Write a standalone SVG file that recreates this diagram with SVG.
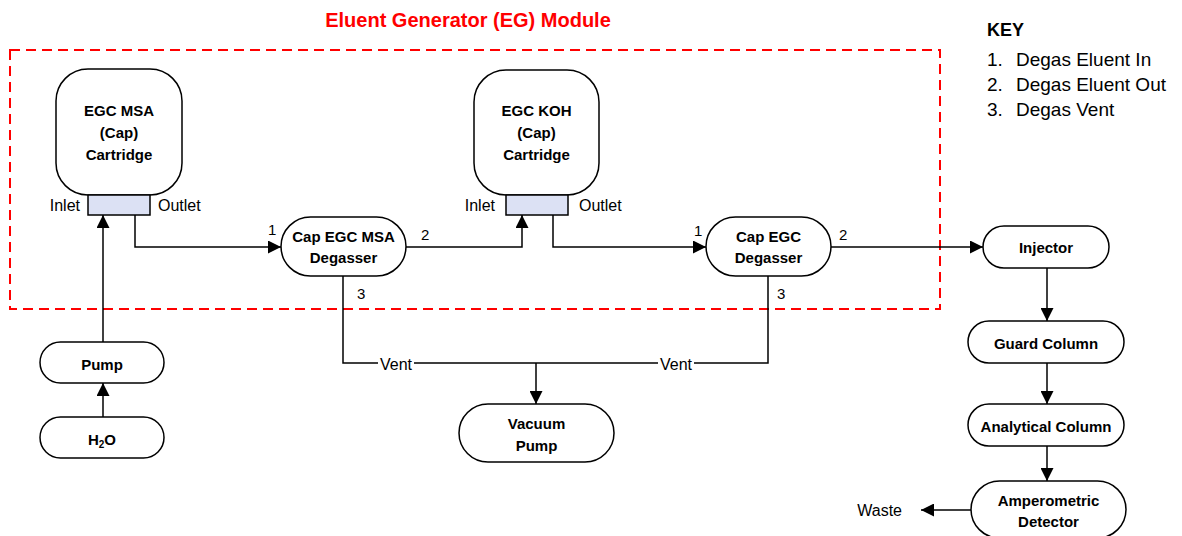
<svg xmlns="http://www.w3.org/2000/svg" width="1182" height="536" viewBox="0 0 1182 536">
<style>
.n{fill:#fff;stroke:#000;stroke-width:1.5}
.p{fill:#dce1f4;stroke:#000;stroke-width:1.5}
.t{font-family:"Liberation Sans",Arial,sans-serif;font-weight:bold;font-size:15px;text-anchor:middle;fill:#000}
.r{font-family:"Liberation Sans",Arial,sans-serif;font-size:16px;fill:#000}
.k{font-family:"Liberation Sans",Arial,sans-serif;font-size:19px;fill:#000}
.s{font-family:"Liberation Sans",Arial,sans-serif;font-size:15px;fill:#000}
.c{fill:none;stroke:#000;stroke-width:1.5}
</style>
<defs>
<marker id="a" markerUnits="userSpaceOnUse" markerWidth="13" markerHeight="13" refX="13" refY="6.5" orient="auto">
<path d="M0,0 L13,6.5 L0,13 z" fill="#000"/>
</marker>
</defs>
<rect x="10" y="50" width="930" height="259" fill="none" stroke="#ff0000" stroke-width="2" stroke-dasharray="10,6"/>
<text x="468" y="27" font-family="Liberation Sans,Arial,sans-serif" font-weight="bold" font-size="20" fill="#ff0000" text-anchor="middle">Eluent Generator (EG) Module</text>

<g id="key">
<text x="987" y="36" font-family="Liberation Sans,Arial,sans-serif" font-weight="bold" font-size="18" fill="#000">KEY</text>
<text x="987" y="66" class="k">1.</text><text x="1016" y="66" class="k">Degas Eluent In</text>
<text x="987" y="91" class="k">2.</text><text x="1016" y="91" class="k">Degas Eluent Out</text>
<text x="987" y="116" class="k">3.</text><text x="1016" y="116" class="k">Degas Vent</text>
</g>

<g id="connectors">
<path class="c" d="M103,342 V215" marker-end="url(#a)"/>
<path class="c" d="M103,417 V383" marker-end="url(#a)"/>
<path class="c" d="M135,215 V247 H281" marker-end="url(#a)"/>
<path class="c" d="M406,247 H522 V215" marker-end="url(#a)"/>
<path class="c" d="M553,215 V247 H706" marker-end="url(#a)"/>
<path class="c" d="M831,247 H983" marker-end="url(#a)"/>
<path class="c" d="M1047,268 V321" marker-end="url(#a)"/>
<path class="c" d="M1047,363 V404" marker-end="url(#a)"/>
<path class="c" d="M1047,446 V481" marker-end="url(#a)"/>
<path class="c" d="M971,510 H921" marker-end="url(#a)"/>
<path class="c" d="M343,276 V363 H768 V276"/>
<path class="c" d="M536,363 V404" marker-end="url(#a)"/>
<rect x="378" y="355" width="36" height="16" fill="#fff"/>
<text x="396" y="370" class="r" text-anchor="middle">Vent</text>
<rect x="658" y="355" width="36" height="16" fill="#fff"/>
<text x="676" y="370" class="r" text-anchor="middle">Vent</text>
<text x="268" y="235" class="s">1</text>
<text x="421" y="240" class="s">2</text>
<text x="357" y="299" class="s">3</text>
<text x="694" y="236" class="s">1</text>
<text x="839" y="240" class="s">2</text>
<text x="777" y="299" class="s">3</text>
<text x="902" y="516" class="r" text-anchor="end">Waste</text>
</g>

<g id="egc-msa">
<rect class="n" x="56" y="69" width="126" height="126" rx="32"/>
<text class="t" x="119" y="116">EGC MSA</text>
<text class="t" x="119" y="138">(Cap)</text>
<text class="t" x="119" y="160">Cartridge</text>
<rect class="p" x="88" y="195" width="62" height="20"/>
<text x="80" y="211" class="r" text-anchor="end">Inlet</text>
<text x="158" y="211" class="r">Outlet</text>
</g>

<g id="egc-koh">
<rect class="n" x="474" y="70" width="125" height="125" rx="32"/>
<text class="t" x="536.5" y="116">EGC KOH</text>
<text class="t" x="536.5" y="138">(Cap)</text>
<text class="t" x="536.5" y="160">Cartridge</text>
<rect class="p" x="506" y="195" width="62" height="20"/>
<text x="495" y="211" class="r" text-anchor="end">Inlet</text>
<text x="579" y="211" class="r">Outlet</text>
</g>

<g id="msa-degasser">
<rect class="n" x="281" y="217" width="125" height="59" rx="29.5"/>
<text class="t" x="343.5" y="242">Cap EGC MSA</text>
<text class="t" x="343.5" y="263">Degasser</text>
</g>

<g id="egc-degasser">
<rect class="n" x="706" y="217" width="125" height="59" rx="29.5"/>
<text class="t" x="768.5" y="242">Cap EGC</text>
<text class="t" x="768.5" y="263">Degasser</text>
</g>

<g id="injector">
<rect class="n" x="983" y="226" width="126" height="42" rx="21"/>
<text class="t" x="1046" y="253">Injector</text>
</g>

<g id="guard">
<rect class="n" x="968" y="321" width="156" height="42" rx="21"/>
<text class="t" x="1046" y="349">Guard Column</text>
</g>

<g id="analytical">
<rect class="n" x="968" y="404" width="156" height="42" rx="21"/>
<text class="t" x="1046" y="432">Analytical Column</text>
</g>

<g id="detector">
<rect class="n" x="971" y="481" width="155" height="57" rx="28.5"/>
<text class="t" x="1048.5" y="506">Amperometric</text>
<text class="t" x="1048.5" y="527">Detector</text>
</g>

<g id="pump">
<rect class="n" x="40" y="342" width="124" height="41" rx="20.5"/>
<text class="t" x="102" y="370">Pump</text>
</g>

<g id="h2o">
<rect class="n" x="40" y="417" width="124" height="41" rx="20.5"/>
<text class="t" x="102" y="445">H<tspan font-size="10" dy="3">2</tspan><tspan dy="-3">O</tspan></text>
</g>

<g id="vacuum-pump">
<rect class="n" x="459" y="404" width="155" height="58" rx="29"/>
<text class="t" x="536.5" y="429">Vacuum</text>
<text class="t" x="536.5" y="451">Pump</text>
</g>
</svg>
